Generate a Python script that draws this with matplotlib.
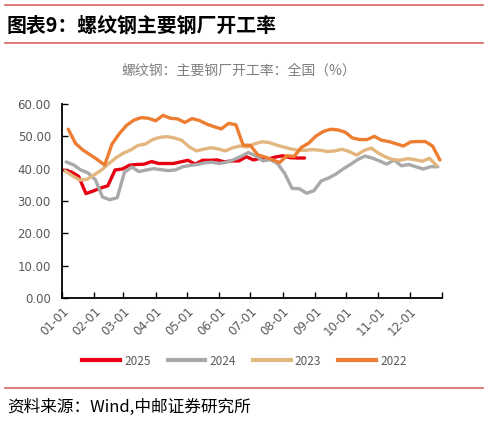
import pandas as pd
import matplotlib.pyplot as plt
import matplotlib.lines as mlines

plt.rcParams['font.family'] = ['Noto Sans CJK SC', 'DejaVu Sans']

# weekly data, first week date of each year
start_2025 = '2025-01-03'
start_2024 = '2024-01-05'
start_2023 = '2023-01-04'
start_2022 = '2022-01-07'

v2025 = [39.5, 39.0, 37.6, 32.3, 33.1, 34.0, 34.7, 39.6, 39.9, 41.1, 41.3, 41.4,
         42.2, 41.6, 41.6, 41.6, 42.1, 42.6, 41.4, 42.6, 42.6, 42.7, 42.1, 42.4,
         42.4, 43.7, 42.7, 43.3, 43.0, 43.6, 44.0, 43.4, 43.3, 43.3]

v2024 = [42.1, 41.2, 39.6, 38.7, 36.6, 31.2, 30.4, 31.0, 38.9, 40.5, 39.1, 39.6,
         40.0, 39.7, 39.4, 39.6, 40.6, 41.0, 41.3, 41.8, 42.0, 41.6, 42.0, 42.8,
         43.8, 45.0, 44.0, 42.4, 42.8, 41.6, 38.5, 33.9, 33.8, 32.4, 33.2, 36.2,
         37.1, 38.3, 39.9, 41.3, 42.8, 43.9, 43.3, 42.4, 41.4, 42.7, 40.9, 41.3,
         40.6, 39.9, 40.6, 40.6]

v2023 = [39.3, 37.8, 36.5, 36.7, 38.1, 39.6, 41.6, 43.4, 44.8, 45.8, 47.2, 47.6,
         49.0, 49.7, 49.9, 49.5, 48.8, 46.8, 45.5, 46.0, 46.5, 46.1, 45.5, 46.5,
         47.0, 46.7, 47.7, 48.3, 48.1, 47.3, 46.7, 46.1, 45.7, 45.7, 45.9, 45.7,
         45.3, 45.5, 46.0, 45.3, 44.2, 45.6, 46.4, 44.8, 43.6, 42.8, 42.6, 43.1,
         42.8, 42.3, 43.2, 40.9]

v2022 = [52.2, 47.8, 45.8, 44.3, 42.8, 41.1, 47.6, 50.8, 53.4, 55.0, 55.8, 55.6,
         54.8, 56.5, 55.6, 55.4, 54.3, 55.5, 54.9, 53.8, 53.0, 52.3, 54.0, 53.6,
         47.3, 47.2, 44.3, 43.6, 42.8, 41.9, 44.0, 43.8, 46.6, 47.9, 50.1, 51.5,
         52.2, 52.0, 51.3, 49.5, 49.0, 49.0, 50.0, 48.8, 48.4, 47.7, 47.0, 48.3,
         48.4, 48.4, 47.0, 42.7]

months = ['01-01', '02-01', '03-01', '04-01', '05-01', '06-01',
          '07-01', '08-01', '09-01', '10-01', '11-01', '12-01']

series = [('2025', start_2025, v2025, '#E60012'),
          ('2024', start_2024, v2024, '#A9A9A9'),
          ('2023', start_2023, v2023, '#E3B680'),
          ('2022', start_2022, v2022, '#ED7D31')]


def day_of_year(start, n):
    d = pd.date_range(start, periods=n, freq='7D')
    y0 = pd.Timestamp(d[0].year, 1, 1)
    return [(x - y0).days for x in d]


fig = plt.figure(figsize=(4.89, 4.23), dpi=100)
ax = fig.add_axes([0.1268, 0.2955, 0.777, 0.4586])

for name, start, vals, col in series:
    ax.plot(day_of_year(start, len(vals)), vals, color=col, lw=2.4,
            solid_joinstyle='round', solid_capstyle='round')

ticks = [(pd.Timestamp('2023-' + m) - pd.Timestamp('2023-01-01')).days for m in months]
ax.set_xticks(ticks + [365])
ax.set_xticklabels(months + [''], rotation=45, ha='right', rotation_mode='anchor',
                   color='#595959', fontsize=8.5, family='DejaVu Sans')
ax.set_xlim(0, 365)
ax.set_ylim(0, 60)
ax.set_yticks(range(0, 61, 10))
ax.set_yticklabels([f'{v:.2f}' for v in range(0, 61, 10)], color='#595959',
                   fontsize=8.5, family='DejaVu Sans')
ax.tick_params(axis='both', direction='in', length=4, width=1)
ax.tick_params(axis='x', pad=5)
ax.tick_params(axis='y', pad=8)
for s in ['top', 'right']:
    ax.spines[s].set_visible(False)
for s in ['left', 'bottom']:
    ax.spines[s].set_linewidth(1.3)

handles = [mlines.Line2D([], [], color=c, lw=3) for _, _, _, c in series]
leg = fig.legend(handles, [n for n, _, _, _ in series], loc='center',
                 bbox_to_anchor=(0.5, 1 - 361 / 423), ncol=4, frameon=False,
                 fontsize=8.5, handlelength=3.2, columnspacing=1.45, handletextpad=0.35)
for t in leg.get_texts():
    t.set_color('#595959')

# header and footer
red = '#D9625F'
fig.add_artist(mlines.Line2D([0.01, 0.988], [1 - 5 / 423] * 2, color=red, lw=1.2))
fig.add_artist(mlines.Line2D([0.01, 0.988], [1 - 43 / 423] * 2, color=red, lw=1.2))
fig.add_artist(mlines.Line2D([0.01, 0.988], [1 - 388 / 423] * 2, color=red, lw=1.2))
fig.text(0.014, 1 - 25 / 423, '图表9：螺纹钢主要钢厂开工率', fontsize=14.3,
         fontweight='bold', va='center', ha='left')
fig.text(0.488, 1 - 71 / 423, '螺纹钢：主要钢厂开工率：全国（%）', fontsize=10,
         color='#7F7F7F', va='center', ha='center')
fig.text(0.014, 1 - 407 / 423, '资料来源：Wind,中邮证券研究所', fontsize=12,
         va='center', ha='left')

fig.savefig('out.png', dpi=100)
